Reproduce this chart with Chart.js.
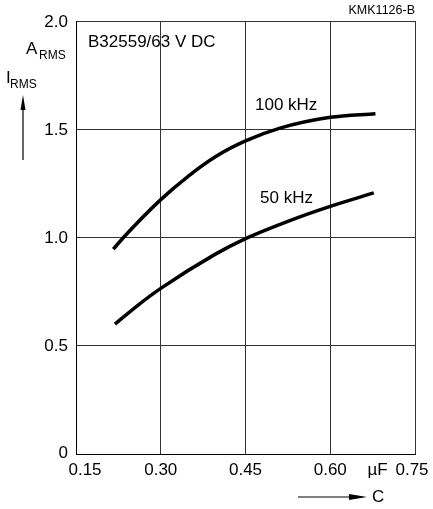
<!DOCTYPE html>
<html>
<head>
<meta charset="utf-8">
<script src="https://cdn.jsdelivr.net/npm/chart.js@4.4.1/dist/chart.umd.min.js"></script>
<style>
  html, body { margin: 0; padding: 0; background: #fff; }
  #wrap { width: 433px; height: 509px; position: relative; }
</style>
</head>
<body>
<div id="wrap"><canvas id="chart"></canvas></div>
<script>
// Ripple current vs capacitance, B32559/63 V DC
const cap100k = [0.216, 0.234, 0.30, 0.349, 0.396, 0.45, 0.511, 0.60, 0.68];
const irms100k = [0.946, 1.0, 1.175, 1.284, 1.372, 1.446, 1.505, 1.555, 1.572];
const cap50k = [0.219, 0.26, 0.30, 0.396, 0.45, 0.525, 0.60, 0.677];
const irms50k = [0.60, 0.688, 0.765, 0.922, 0.995, 1.075, 1.144, 1.206];

const xTicks = [0.15, 0.30, 0.45, 0.60, 0.75];
const xTickLabels = ['0.15', '0.30', '0.45', '0.60', '0.75'];
const yTicks = [0, 0.5, 1.0, 1.5, 2.0];
const yTickLabels = ['0', '0.5', '1.0', '1.5', '2.0'];

const FONT = '"Liberation Sans", Arial, Helvetica, sans-serif';

const toPoints = (xs, ys) => xs.map((x, i) => ({ x: x, y: ys[i] }));

// draws tick labels, units, curve labels and axis arrows
const annotations = {
    id: 'annotations',
    afterDraw(chart) {
        const ctx = chart.ctx;
        const xs = chart.scales.x;
        const ys = chart.scales.y;
        ctx.save();
        ctx.fillStyle = '#000';
        ctx.strokeStyle = '#000';
        ctx.textBaseline = 'middle';
        ctx.font = '17px ' + FONT;

        // y tick labels
        ctx.textAlign = 'right';
        yTicks.forEach((v, i) => {
            ctx.fillText(yTickLabels[i], 68, ys.getPixelForValue(v) + (i === 0 ? -1 : 1));
        });

        // x tick labels
        ctx.textAlign = 'center';
        xTicks.forEach((v, i) => {
            let px = xs.getPixelForValue(v);
            if (i === 0) px += 9;
            if (i === xTicks.length - 1) px -= 3;
            ctx.fillText(xTickLabels[i], px, 470);
        });
        ctx.fillText('µF', 377.5, 470);

        // curve labels
        ctx.textAlign = 'left';
        ctx.fillText('100 kHz', 255, 105);
        ctx.fillText('50 kHz', 260, 198);
        ctx.fillText('B32559/63 V DC', 88, 42);

        // unit / quantity labels
        ctx.textBaseline = 'alphabetic';
        ctx.fillText('A', 26, 53.5);
        ctx.fillText('I', 6, 82.5);
        ctx.font = '12px ' + FONT;
        ctx.fillText('RMS', 39, 58.5);
        ctx.fillText('RMS', 10, 87.5);

        ctx.textBaseline = 'middle';
        ctx.font = '17px ' + FONT;
        ctx.fillText('C', 372, 497);

        ctx.font = '12.5px ' + FONT;
        ctx.textAlign = 'right';
        ctx.fillText('KMK1126-B', 415, 11);

        // up arrow
        ctx.lineWidth = 1.2;
        ctx.beginPath();
        ctx.moveTo(23, 160);
        ctx.lineTo(23, 108);
        ctx.stroke();
        ctx.beginPath();
        ctx.moveTo(23, 95);
        ctx.lineTo(20.5, 110);
        ctx.lineTo(25.5, 110);
        ctx.closePath();
        ctx.fill();

        // right arrow
        ctx.beginPath();
        ctx.moveTo(298, 497);
        ctx.lineTo(352, 497);
        ctx.stroke();
        ctx.beginPath();
        ctx.moveTo(367, 497);
        ctx.lineTo(349, 494);
        ctx.lineTo(349, 500);
        ctx.closePath();
        ctx.fill();

        ctx.restore();
    }
};

new Chart(document.getElementById('chart'), {
    type: 'line',
    data: {
        datasets: [
            {
                label: '100 kHz',
                data: toPoints(cap100k, irms100k),
                borderColor: '#000',
                borderWidth: 3.5,
                pointRadius: 0,
                cubicInterpolationMode: 'monotone',
                fill: false
            },
            {
                label: '50 kHz',
                data: toPoints(cap50k, irms50k),
                borderColor: '#000',
                borderWidth: 3.5,
                pointRadius: 0,
                cubicInterpolationMode: 'monotone',
                fill: false
            }
        ]
    },
    options: {
        responsive: true,
        maintainAspectRatio: false,
        animation: false,
        layout: {
            padding: { left: 76, top: 21, right: 18, bottom: 55 }
        },
        plugins: {
            legend: { display: false },
            tooltip: { enabled: false }
        },
        scales: {
            x: {
                type: 'linear',
                min: 0.15,
                max: 0.75,
                afterBuildTicks: (scale) => { scale.ticks = xTicks.map(v => ({ value: v })); },
                ticks: { display: false },
                grid: { color: '#333', lineWidth: 1, drawTicks: false },
                border: { color: '#000', width: 1 }
            },
            y: {
                type: 'linear',
                min: 0,
                max: 2,
                afterBuildTicks: (scale) => { scale.ticks = yTicks.map(v => ({ value: v })); },
                ticks: { display: false },
                grid: { color: '#333', lineWidth: 1, drawTicks: false },
                border: { color: '#000', width: 1 }
            }
        }
    },
    plugins: [annotations]
});
</script>
</body>
</html>
